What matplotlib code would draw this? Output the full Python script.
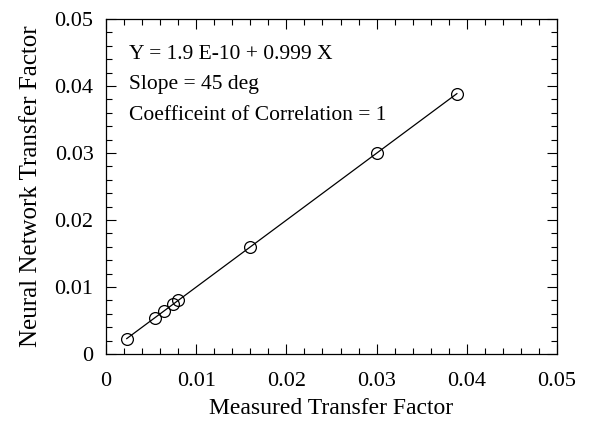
import matplotlib
matplotlib.use("Agg")
import matplotlib.pyplot as plt
from matplotlib.ticker import MultipleLocator, FixedFormatter, FixedLocator

measured = [0.0023, 0.0054, 0.0064, 0.0074, 0.0080, 0.0160, 0.0300, 0.0389]
predicted = [0.0023, 0.0054, 0.0064, 0.0075, 0.0080, 0.0159, 0.0300, 0.0388]
tick_vals = [0, 0.01, 0.02, 0.03, 0.04, 0.05]
tick_labels = ["0", "0.01", "0.02", "0.03", "0.04", "0.05"]
fit_x = [0.0023, 0.0389]
fit_y = [1.9e-10 + 0.999 * v for v in fit_x]
annot = ["Y = 1.9 E-10 + 0.999 X", "Slope = 45 deg", "Coefficeint of Correlation = 1"]

plt.rcParams['font.family'] = ['Liberation Serif', 'DejaVu Serif']
fig = plt.figure(figsize=(5.89, 4.23), dpi=100)
L, R, T, B = 106, 557, 19, 354
ax = fig.add_axes([L/589, 1-B/423, (R-L)/589, (B-T)/423])
ax.plot(fit_x, fit_y, color='black', lw=0.9)
ax.plot(measured, predicted, linestyle='none', marker='o', ms=8.5, mfc='none', mec='black', mew=0.9)
ax.set_xlim(0, 0.05)
ax.set_ylim(0, 0.05)
for axis in (ax.xaxis, ax.yaxis):
    axis.set_major_locator(FixedLocator(tick_vals))
    axis.set_major_formatter(FixedFormatter(tick_labels))
    axis.set_minor_locator(MultipleLocator(0.002))
ax.tick_params(which='both', direction='in', top=True, right=True, labelsize=16, width=0.8)
ax.tick_params(which='major', length=7)
ax.tick_params(axis='x', which='major', pad=13)
ax.tick_params(axis='y', which='major', pad=9)
ax.tick_params(which='minor', length=4)
for s in ax.spines.values():
    s.set_linewidth(0.9)
ax.set_xlabel("Measured Transfer Factor", fontsize=17, labelpad=5)
ax.set_ylabel("Neural Network Transfer Factor", fontsize=18, labelpad=9)
for i, t in enumerate(annot):
    ax.text(0.051, 0.893 - i * 0.09, t, transform=ax.transAxes, fontsize=15.5, va='center', ha='left')
fig.savefig("out.png", dpi=100)
